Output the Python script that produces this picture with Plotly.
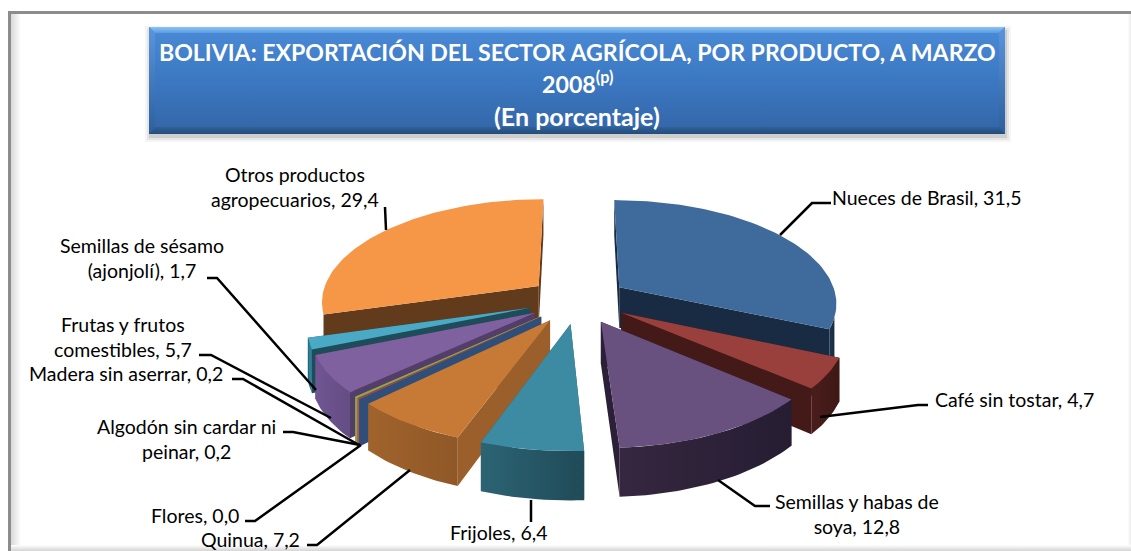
import math
import plotly.graph_objects as go

# ---- data (clockwise from the top of the pie) ----
categories = ["Nueces de Brasil", "Café sin tostar", "Semillas y habas de soya", "Frijoles",
              "Quinua", "Flores", "Algodón sin cardar ni peinar", "Madera sin aserrar",
              "Frutas y frutos comestibles", "Semillas de sésamo (ajonjolí)",
              "Otros productos agropecuarios"]
values = [31.5, 4.7, 12.8, 6.4, 7.2, 0.0, 0.2, 0.2, 5.7, 1.7, 29.4]
top_colors = ["#3f6a9c", "#99403d", "#68507f", "#3c8ba3", "#c67a35", "#3f6a9c", "#99403d",
              "#8aa54b", "#7f619f", "#4aaac6", "#f59746"]
cut_colors = ["#192b42", "#431a18", "#2b2038", "#2a6070", "#9a5f2b", "#2f4f7a", "#b5534f",
              "#8aa54b", "#523e68", "#1f4c59", "#623a1c"]
wall_left = ["#1f3550", "#4a1d1b", "#35273f", "#2c6474", "#a0632c", "#2f4f7a", "#b5534f",
             "#8aa54b", "#705692", "#2b7f96", "#a86a30"]
wall_right = ["#182a40", "#3e1816", "#261d33", "#204a58", "#8f5827", "#2f4f7a", "#b5534f",
              "#8aa54b", "#644c84", "#2b7f96", "#623a1c"]
draw_order = [10, 0, 9, 8, 7, 6, 5, 1, 4, 3, 2]

title_lines = ["BOLIVIA: EXPORTACIÓN DEL SECTOR AGRÍCOLA, POR PRODUCTO, A MARZO",
               "2008<sup>(p)</sup>", "(En porcentaje)"]
title_sizes = [23.1, 23.2, 25]

# ---- pie projection settings ----
CX, CY = 578, 300
RX, RY = 218, 102.4
EXPLODE = 0.23
KX, KY = 0.14, 0.137
DEPTH = 41
WALL_MIN, WALL_MAX = math.radians(107), math.radians(253)
total = sum(values)

fig = go.Figure()


def project(X, Y, drop=False):
    sx = 1 / (1 - KX * Y)
    sy = 1 / (1 - KY * Y)
    y = CY + RY * Y * sy
    if drop:
        y += DEPTH * sy
    return CX + RX * X * sx, y


def poly(xs, ys, color=None, grad=None):
    kw = dict(x=list(xs) + [xs[0]], y=list(ys) + [ys[0]], mode="lines", fill="toself",
              line=dict(width=0), hoverinfo="skip", showlegend=False)
    if grad:
        kw["fillgradient"] = grad
    else:
        kw["fillcolor"] = color
    fig.add_trace(go.Scatter(**kw))


def vgrad(stops):
    """Vertical gradient given from top to bottom (the y axis is reversed)."""
    return dict(type="vertical", colorscale=[[1 - p, c] for p, c in reversed(stops)])


# ---- page frame ----
poly([8, 1131, 1131, 8], [11, 11, 551, 551], "#8c8c8c")
poly([11, 1131, 1131, 11], [14, 14, 551, 551],
     grad=dict(type="horizontal", colorscale=[[0, "#d9d9d9"], [0.009, "#ffffff"], [0.997, "#ffffff"], [1, "#ececec"]]))
poly([11, 1131, 1131, 11], [545, 545, 551, 551], grad=vgrad([[0, "#ffffff"], [1, "#d4d4d4"]]))

# ---- title box ----
for grow, alpha in [(5, 0.06), (3, 0.10), (1, 0.16)]:
    poly([150 - grow, 1006 + grow, 1006 + grow, 150 - grow], [31 - grow, 31 - grow, 137 + grow, 137 + grow],
         f"rgba(90,90,90,{alpha})")
poly([149, 1005, 1005, 149], [27, 27, 134, 134],
     grad=vgrad([[0, "#4a8ad6"], [0.5, "#3c78c2"], [1, "#3365a7"]]))
poly([149, 1005, 999, 155], [27, 27, 33, 33], grad=vgrad([[0, "#8cc4f4"], [1, "#5a9ce2"]]))
poly([149, 155, 155, 149], [27, 33, 127, 134], grad=vgrad([[0, "#5a96dc"], [1, "#2c5f9c"]]))
poly([1005, 999, 999, 1005], [27, 33, 127, 134], grad=vgrad([[0, "#5a96dc"], [1, "#2c5f9c"]]))
poly([149, 1005, 999, 155], [134, 134, 127, 127], grad=vgrad([[0, "#2f6098"], [1, "#234d7c"]]))

# ---- exploded pie, built from the values ----
cum = 0
wedges = []
for v in values:
    wedges.append((cum / total * 2 * math.pi, (cum + v) / total * 2 * math.pi))
    cum += v

for i in draw_order:
    a0, a1 = wedges[i]
    if a1 - a0 < 0.004:
        mid = (a0 + a1) / 2
        a0, a1 = mid - 0.002, mid + 0.002
    mid = (a0 + a1) / 2
    ox, oy = EXPLODE * math.sin(mid), -EXPLODE * math.cos(mid)
    n = max(6, int((a1 - a0) * 40))
    arc = [a0 + (a1 - a0) * k / n for k in range(n + 1)]
    rim = [(ox + math.sin(a), oy - math.cos(a)) for a in arc]
    ap = (ox, oy)

    for pt in (rim[0], rim[-1]):
        t = [project(*ap), project(*pt), project(*pt, drop=True), project(*ap, drop=True)]
        poly([p[0] for p in t], [p[1] for p in t], cut_colors[i])
    # outer wall: only the part that faces the viewer
    w0, w1 = max(a0, WALL_MIN), min(a1, WALL_MAX)
    if w1 > w0:
        wall_arc = [w0 + (w1 - w0) * k / n for k in range(n + 1)]
        wrim = [(ox + math.sin(a), oy - math.cos(a)) for a in wall_arc]
        ring = [project(*p) for p in wrim] + [project(*p, drop=True) for p in wrim[::-1]]
        poly([p[0] for p in ring], [p[1] for p in ring],
             grad=dict(type="horizontal", colorscale=[[0, wall_left[i]], [1, wall_right[i]]]))
    face = [project(*ap)] + [project(*p) for p in rim]
    poly([p[0] for p in face], [p[1] for p in face], top_colors[i])

# ---- leader lines ----
leaders = [
    [(385, 207), (386, 230)],
    [(831, 203), (812, 203), (780, 235)],
    [(928, 405), (918, 405), (820, 417)],
    [(770, 506), (755, 506), (718, 480)],
    [(531, 500), (531, 522)],
    [(307, 545), (317, 545), (410, 470)],
    [(245, 521), (255, 521), (361, 445)],
    [(283, 432), (293, 432), (360, 445)],
    [(232, 379), (243, 379), (359, 445)],
    [(199, 355), (211, 355), (331, 418)],
    [(207, 278), (217, 278), (316, 390)],
]
for seg in leaders:
    fig.add_trace(go.Scatter(x=[p[0] for p in seg], y=[p[1] for p in seg], mode="lines",
                             line=dict(color="#000000", width=2.5), hoverinfo="skip", showlegend=False))

# ---- labels ----
labels = [
    ("Otros productos<br>agropecuarios, 29,4", 295, 187),
    ("Nueces de Brasil, 31,5", 926, 197),
    ("Café sin tostar, 4,7", 1014, 399),
    ("Semillas y habas de<br>soya, 12,8", 857, 514),
    ("Frijoles, 6,4", 499, 532),
    ("Quinua, 7,2", 250, 539),
    ("Flores, 0,0", 195, 515),
    ("Algodón sin cardar ni<br>peinar, 0,2", 186, 439),
    ("Madera sin aserrar, 0,2", 126, 373),
    ("Frutas y frutos<br>comestibles, 5,7", 123, 337),
    ("Semillas de sésamo<br>(ajonjolí), 1,7", 142, 258),
]
annotations = [dict(x=x, y=y, text=t, showarrow=False, xanchor="center", yanchor="middle",
                    font=dict(family="Lato", size=19.5, color="#000000"), align="center")
               for t, x, y in labels]
for line, y, s in zip(title_lines, [52, 82, 116], title_sizes):
    annotations.append(dict(x=577, y=y, text=line, showarrow=False, xanchor="center",
                            yanchor="middle", align="center",
                            font=dict(family="Lato", size=s, color="#ffffff", weight="bold")))

fig.update_layout(
    width=1131, height=551, margin=dict(l=0, r=0, t=0, b=0),
    paper_bgcolor="#ffffff", plot_bgcolor="#ffffff", showlegend=False, annotations=annotations,
    xaxis=dict(range=[0, 1131], visible=False, fixedrange=True),
    yaxis=dict(range=[551, 0], visible=False, fixedrange=True),
)
fig.write_html("out.html", config=dict(displayModeBar=False),
               post_script="document.body.style.margin='0';document.body.style.overflow='hidden';")
